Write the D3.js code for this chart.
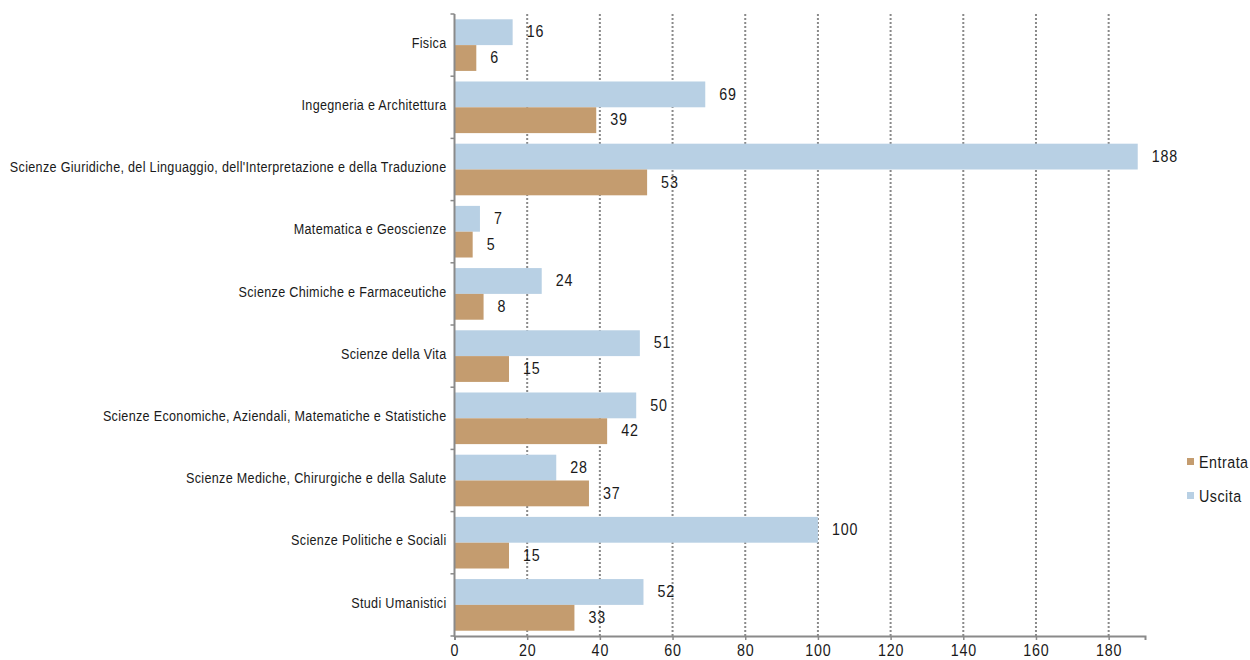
<!DOCTYPE html>
<html>
<head>
<meta charset="utf-8">
<script src="https://cdn.jsdelivr.net/npm/d3@7"></script>
<style>
  body { margin: 0; background: #fff; }
  text { font-family: "Liberation Sans", Arial, sans-serif; fill: #1a1a1a; }
</style>
</head>
<body>
<svg id="chart" width="1250" height="660"></svg>
<script>
// categories from top to bottom
const categories = [
  'Fisica',
  'Ingegneria e Architettura',
  "Scienze Giuridiche, del Linguaggio, dell'Interpretazione e della Traduzione",
  'Matematica e Geoscienze',
  'Scienze Chimiche e Farmaceutiche',
  'Scienze della Vita',
  'Scienze Economiche, Aziendali, Matematiche e Statistiche',
  'Scienze Mediche, Chirurgiche e della Salute',
  'Scienze Politiche e Sociali',
  'Studi Umanistici'
];
const uscita = [16, 69, 188, 7, 24, 51, 50, 28, 100, 52];
const entrata = [6, 39, 53, 5, 8, 15, 42, 37, 15, 33];
const xTicks = [0, 20, 40, 60, 80, 100, 120, 140, 160, 180];

const seriesNames = ['Uscita', 'Entrata'];
const colors = { Uscita: '#b8d0e4', Entrata: '#c49c6f' };
const seriesData = { Uscita: uscita, Entrata: entrata };

// the original uses a condensed face, so squeeze Liberation Sans horizontally
const sx = 0.84;

const svg = d3.select('#chart');
const plotLeft = 454.5, plotRight = 1145, plotTop = 14, plotBottom = 636;

const x = d3.scaleLinear().domain([0, 190]).range([plotLeft, plotRight]);
const y = d3.scaleBand().domain(categories).range([plotTop, plotBottom]).paddingInner(0.17).paddingOuter(0.085);
const ySub = d3.scaleBand().domain(seriesNames).range([0, y.bandwidth()]);

// dotted grid lines
svg.append('g')
  .selectAll('line')
  .data(xTicks.filter(d => d > 0))
  .join('line')
  .attr('x1', d => x(d)).attr('x2', d => x(d))
  .attr('y1', plotTop).attr('y2', plotBottom)
  .attr('stroke', '#8a8a8a')
  .attr('stroke-width', 2)
  .attr('stroke-dasharray', '2,2');

// bars
const groups = svg.append('g')
  .selectAll('g')
  .data(categories)
  .join('g')
  .attr('transform', d => `translate(0,${y(d)})`);

seriesNames.forEach(name => {
  groups.append('rect')
    .attr('x', x(0))
    .attr('y', ySub(name))
    .attr('width', (d, i) => x(seriesData[name][i]) - x(0))
    .attr('height', ySub.bandwidth())
    .attr('fill', colors[name]);

  groups.append('text')
    .attr('transform', (d, i) =>
      `translate(${x(seriesData[name][i]) + 14},${ySub(name) + ySub.bandwidth() / 2}) scale(${sx},1)`)
    .attr('dy', '0.3em')
    .attr('font-size', 17)
    .attr('letter-spacing', '1px')
    .text((d, i) => seriesData[name][i]);
});

// x axis
const xAxis = svg.append('g')
  .attr('transform', `translate(0,${plotBottom})`)
  .call(d3.axisBottom(x).tickValues(xTicks).tickSize(4).tickPadding(4));
xAxis.select('.domain').attr('stroke', '#8a8a8a').attr('stroke-width', 2);
xAxis.selectAll('.tick line').attr('stroke', '#8a8a8a').attr('stroke-width', 1.5);
xAxis.selectAll('.tick text')
  .attr('font-family', '"Liberation Sans", Arial, sans-serif')
  .attr('font-size', 17).attr('letter-spacing', '1px').attr('fill', '#1a1a1a')
  .attr('transform', `scale(${sx},1)`);

// y axis: line with separator ticks between categories
const yAxis = svg.append('g');
yAxis.append('line')
  .attr('x1', plotLeft).attr('x2', plotLeft)
  .attr('y1', plotTop).attr('y2', plotBottom + 1)
  .attr('stroke', '#8a8a8a').attr('stroke-width', 2);
const step = (plotBottom - plotTop) / categories.length;
yAxis.selectAll('.sep')
  .data(d3.range(categories.length + 1))
  .join('line')
  .attr('class', 'sep')
  .attr('x1', plotLeft - 4).attr('x2', plotLeft)
  .attr('y1', i => plotTop + i * step).attr('y2', i => plotTop + i * step)
  .attr('stroke', '#8a8a8a').attr('stroke-width', 1.5);
yAxis.selectAll('.cat')
  .data(categories)
  .join('text')
  .attr('class', 'cat')
  .attr('transform', d => `translate(${plotLeft - 8},${y(d) + y.bandwidth() / 2}) scale(${sx},1)`)
  .attr('dy', '0.18em')
  .attr('text-anchor', 'end')
  .attr('font-size', 15)
  .attr('letter-spacing', '0.37px')
  .text(d => d);

// legend
const legend = svg.append('g')
  .selectAll('g')
  .data(['Entrata', 'Uscita'])
  .join('g')
  .attr('transform', (d, i) => `translate(1187,${458 + i * 34})`);
legend.append('rect')
  .attr('width', 7).attr('height', 7)
  .attr('fill', d => colors[d]);
legend.append('text')
  .attr('transform', `translate(12,3.5) scale(${sx},1)`)
  .attr('dy', '0.36em')
  .attr('font-size', 17)
  .attr('letter-spacing', '0.6px')
  .text(d => d);
</script>
</body>
</html>
